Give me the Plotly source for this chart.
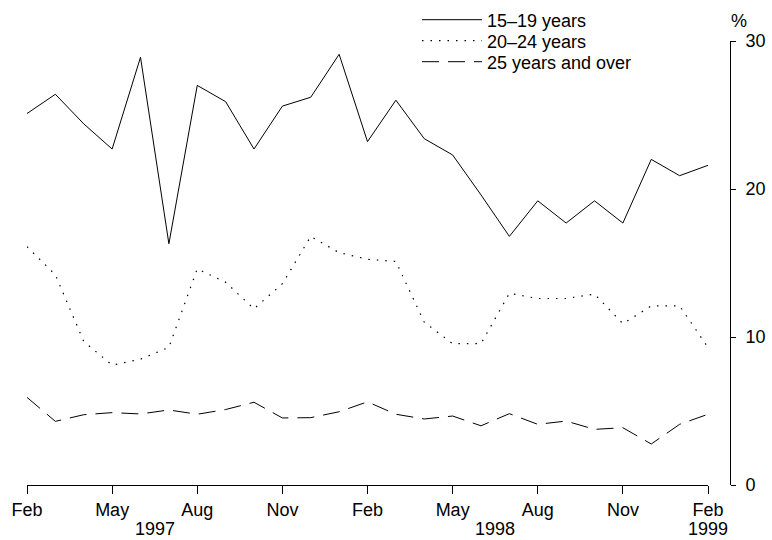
import plotly.graph_objects as go

months = ["1997-02", "1997-03", "1997-04", "1997-05", "1997-06", "1997-07", "1997-08",
          "1997-09", "1997-10", "1997-11", "1997-12", "1998-01", "1998-02", "1998-03",
          "1998-04", "1998-05", "1998-06", "1998-07", "1998-08", "1998-09", "1998-10",
          "1998-11", "1998-12", "1999-01", "1999-02"]

age_15_19 = [25.1, 26.4, 24.4, 22.7, 28.9, 16.3, 27.0, 25.9, 22.7, 25.6, 26.2, 29.1, 23.2,
             26.0, 23.4, 22.3, 19.6, 16.8, 19.2, 17.7, 19.2, 17.7, 22.0, 20.9, 21.6]
age_20_24 = [16.1, 14.2, 9.7, 8.1, 8.5, 9.3, 14.6, 13.7, 11.9, 13.6, 16.8, 15.7, 15.25,
             15.1, 11.0, 9.55, 9.55, 12.95, 12.6, 12.6, 12.9, 10.9, 12.1, 12.1, 9.3]
age_25_over = [5.92, 4.3, 4.75, 4.89, 4.8, 5.07, 4.78, 5.1, 5.59, 4.53, 4.55, 4.95, 5.62,
               4.78, 4.46, 4.66, 4.0, 4.82, 4.1, 4.32, 3.76, 3.87, 2.77, 4.1, 4.78]

series_names = ["15\u201319 years", "20\u201324 years", "25 years and over"]
tick_months = ["Feb", "May", "Aug", "Nov", "Feb", "May", "Aug", "Nov", "Feb"]
tick_idx = [0, 3, 6, 9, 12, 15, 18, 21, 24]
years = ["1997", "1998", "1999"]
year_pos = [4.5, 16.5, 24]

x = list(range(len(months)))
FONT = "Liberation Sans, Arial, Helvetica, sans-serif"
W, H = 772, 540

fig = go.Figure()
styles = [dict(width=1, dash="solid"), dict(width=1.2, dash="1.5px,7px"),
          dict(width=1, dash="17px,9px")]
data = [age_15_19, age_20_24, age_25_over]
legend_ids = ["legend", "legend2", "legend3"]
for name, vals, st, lg in zip(series_names, data, styles, legend_ids):
    fig.add_trace(go.Scatter(x=x, y=vals, mode="lines", name=name, legend=lg,
                             line=dict(color="black", **st)))

for yr, pos in zip(years, year_pos):
    fig.add_annotation(text=yr, x=pos, xref="x", y=0, yref="paper", yshift=-44,
                       showarrow=False, yanchor="middle", xanchor="center",
                       font=dict(family=FONT, size=18, color="black"))

fig.add_annotation(text="%", x=1.0, xref="paper", y=1, yref="paper", yshift=20,
                   xshift=9, showarrow=False, yanchor="middle", xanchor="center",
                   font=dict(family=FONT, size=18, color="black"))

legend_rows = [20, 41, 62]
leg_common = dict(xref="container", yref="container", xanchor="left", yanchor="middle",
                  bgcolor="rgba(0,0,0,0)", font=dict(family=FONT, size=18, color="black"),
                  itemwidth=60, borderwidth=0)
legends = {}
for lg, row in zip(legend_ids, legend_rows):
    legends[lg] = dict(x=(423 - 6) / W, y=1 - row / H, **leg_common)

fig.update_layout(
    width=W, height=H,
    margin=dict(l=27, r=42, t=41, b=55, autoexpand=False),
    paper_bgcolor="white", plot_bgcolor="white",
    font=dict(family=FONT, size=18, color="black"),
    showlegend=True,
    xaxis=dict(domain=[0, 681 / 703], range=[0, 24], showgrid=False, zeroline=False,
               showline=True, linecolor="black", linewidth=1, automargin=False,
               ticks="outside", ticklen=8, tickcolor="black", tickwidth=1,
               tickvals=tick_idx, ticktext=tick_months,
               tickfont=dict(family=FONT, size=18, color="black")),
    yaxis=dict(range=[0, 30], side="right", anchor="free", position=1.0,
               showgrid=False, zeroline=False, showline=True, linecolor="black",
               linewidth=1, ticks="outside", ticklen=5, tickcolor="black",
               automargin=False, tickvals=[0, 10, 20, 30], ticklabelstandoff=6,
               tickfont=dict(family=FONT, size=18, color="black")),
    **legends,
)

fig.write_html("out.html", config={"displayModeBar": False},
               post_script="document.body.style.margin='0';")
